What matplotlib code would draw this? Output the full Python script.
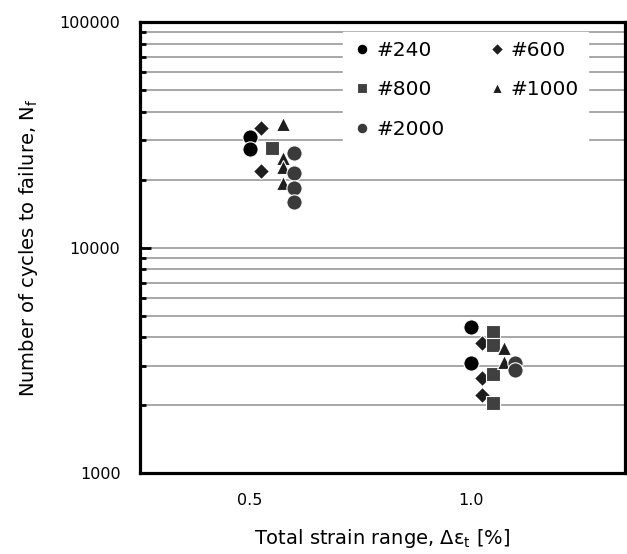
import matplotlib.pyplot as plt
from matplotlib.ticker import LogLocator, NullFormatter, FixedLocator

# strain ranges (%) and cycles to failure
grit = ['#240', '#600', '#800', '#1000', '#2000']
offset = [0.0, 0.025, 0.05, 0.075, 0.1]  # small horizontal shift per series

n_240 = {0.5: [31100, 27500], 1.0: [4460, 3080]}
n_600 = {0.5: [33800, 21800], 1.0: [3780, 2640, 2220]}
n_800 = {0.5: [27800], 1.0: [4230, 3710, 2760, 2050]}
n_1000 = {0.5: [35200, 24900, 22900, 19400], 1.0: [3590, 3110]}
n_2000 = {0.5: [26400, 21500, 18300, 16000], 1.0: [3080, 2880]}

series = [n_240, n_600, n_800, n_1000, n_2000]
markers = ['o', 'D', 's', '^', 'o']
colors = ['#000000', '#1e1e1e', '#404040', '#1e1e1e', '#3a3a3a']
sizes = [11, 8.5, 10, 10, 11]

fig = plt.figure(figsize=(6.27, 5.54), dpi=100)
ax = fig.add_axes([0.223, 0.146, 0.774, 0.814])

handles = []
for name, data, off, m, c, s in zip(grit, series, offset, markers, colors, sizes):
    xs, ys = [], []
    for strain, vals in data.items():
        for v in vals:
            xs.append(strain + off)
            ys.append(v)
    h, = ax.plot(xs, ys, ls='none', marker=m, color=c, markersize=s,
                 markeredgecolor='white', markeredgewidth=0.8, label=name, zorder=3)
    handles.append(h)

ax.set_yscale('log')
ax.set_ylim(1000, 100000)
ax.set_xlim(0.25, 1.35)
ax.xaxis.set_major_locator(FixedLocator([0.5, 1.0]))
ax.set_xticklabels(['0.5', '1.0'])
ax.yaxis.set_major_locator(FixedLocator([1000, 10000, 100000]))
ax.set_yticklabels(['1000', '10000', '100000'])
ax.yaxis.set_minor_locator(LogLocator(base=10, subs=range(2, 10)))
ax.yaxis.set_minor_formatter(NullFormatter())

ax.grid(True, which='both', axis='y', color='#a0a0a0', lw=1.3, zorder=0)
ax.set_axisbelow(True)
ax.tick_params(axis='x', length=0, labelsize=11.5, pad=14)
ax.tick_params(axis='y', which='major', direction='in', length=8, width=2,
               labelsize=11.5, pad=14)
ax.tick_params(axis='y', which='minor', direction='in', length=4, width=2)
for sp in ax.spines.values():
    sp.set_linewidth(2.3)

ax.set_xlabel('Total strain range, Δε$_\\mathrm{t}$ [%]', fontsize=14, labelpad=14)
ax.set_ylabel('Number of cycles to failure, N$_\\mathrm{f}$', fontsize=14, labelpad=14)

# row-wise legend order: 240, 600 / 800, 1000 / 2000
order = [0, 2, 4, 1, 3]
leg = ax.legend([handles[i] for i in order], [grit[i] for i in order],
                ncol=2, loc='upper left', bbox_to_anchor=(0.398, 1.0),
                frameon=True, fontsize=14.5, markerscale=0.7, handletextpad=0.2,
                columnspacing=2.1, labelspacing=1.0, borderpad=0.45,
                handlelength=1.0, fancybox=False)
leg.get_frame().set_edgecolor('white')
leg.get_frame().set_facecolor('white')
leg.get_frame().set_alpha(1.0)

fig.savefig('out.png', dpi=100)
